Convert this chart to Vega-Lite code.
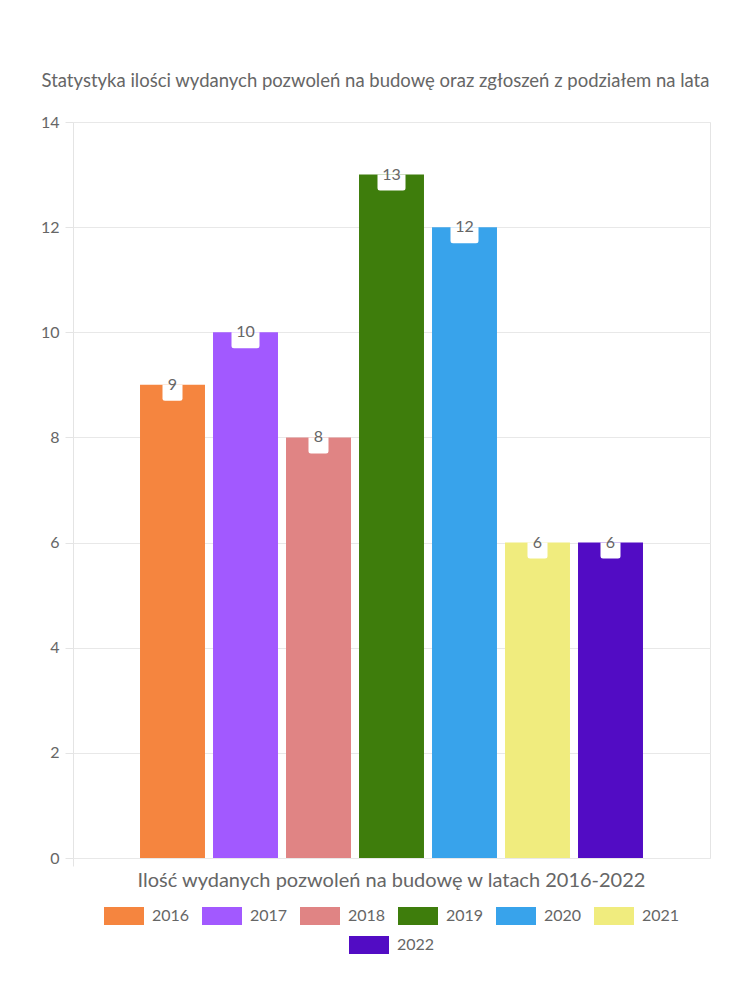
{
  "$schema": "https://vega.github.io/schema/vega-lite/v6.json",
  "autosize": {"type": "none"},
  "padding": {"left": 73, "top": 122, "right": 40, "bottom": 142},
  "width": 637,
  "height": 736,
  "background": "white",
  "title": {
    "text": "Statystyka ilości wydanych pozwoleń na budowę oraz zgłoszeń z podziałem na lata",
    "fontSize": 18.5,
    "fontWeight": "normal",
    "color": "#666666",
    "font": "Lato",
    "anchor": "middle",
    "frame": "group",
    "dx": -16,
    "offset": 24
  },
  "config": {
    "font": "Lato",
    "view": {"stroke": "#e4e4e4", "strokeWidth": 1},
    "legend": {
      "layout": {"bottom": {"anchor": "middle", "direction": "vertical", "center": true, "margin": 0}}
    }
  },
  "data": {
    "values": [
      {"kategoria": "Ilość wydanych pozwoleń na budowę w latach 2016-2022", "rok": "2016", "wartosc": 9},
      {"kategoria": "Ilość wydanych pozwoleń na budowę w latach 2016-2022", "rok": "2017", "wartosc": 10},
      {"kategoria": "Ilość wydanych pozwoleń na budowę w latach 2016-2022", "rok": "2018", "wartosc": 8},
      {"kategoria": "Ilość wydanych pozwoleń na budowę w latach 2016-2022", "rok": "2019", "wartosc": 13},
      {"kategoria": "Ilość wydanych pozwoleń na budowę w latach 2016-2022", "rok": "2020", "wartosc": 12},
      {"kategoria": "Ilość wydanych pozwoleń na budowę w latach 2016-2022", "rok": "2021", "wartosc": 6},
      {"kategoria": "Ilość wydanych pozwoleń na budowę w latach 2016-2022", "rok": "2022", "wartosc": 6}
    ]
  },
  "encoding": {
    "x": {
      "field": "kategoria",
      "type": "nominal",
      "scale": {"paddingInner": 0, "paddingOuter": 0},
      "axis": {
        "title": null,
        "labelAngle": 0,
        "labelFontSize": 20,
        "labelLimit": 0,
        "labelColor": "#666666",
        "labelPadding": 4,
        "tickSize": 8,
        "tickColor": "#e4e4e4",
        "bandPosition": 0,
        "domain": false,
        "grid": false
      }
    },
    "xOffset": {
      "field": "rok",
      "type": "nominal",
      "scale": {
        "domain": ["2016", "2017", "2018", "2019", "2020", "2021", "2022"],
        "paddingInner": 0.11,
        "paddingOuter": 0.918
      }
    },
    "y": {
      "field": "wartosc",
      "type": "quantitative",
      "scale": {"domain": [0, 14], "nice": false},
      "axis": {
        "title": null,
        "values": [0, 2, 4, 6, 8, 10, 12, 14],
        "labelFontSize": 16,
        "labelColor": "#666666",
        "labelPadding": 6,
        "tickSize": 8,
        "tickColor": "#e4e4e4",
        "gridColor": "#e8e8e8",
        "domain": false
      }
    }
  },
  "layer": [
    {
      "transform": [{"filter": "datum.rok != '2022'"}],
      "mark": {"type": "bar"},
      "encoding": {
        "color": {
          "field": "rok",
          "type": "nominal",
          "scale": {
            "domain": ["2016", "2017", "2018", "2019", "2020", "2021"],
            "range": ["#F5853F", "#A259FF", "#E08484", "#3E7D0C", "#38A3EB", "#F0EC7E"]
          },
          "legend": {
            "orient": "bottom",
            "title": null,
            "direction": "horizontal",
            "symbolType": "M-1,-0.45H1V0.45H-1Z",
            "symbolSize": 1600,
            "symbolStrokeWidth": 0,
            "symbolOpacity": 1,
            "labelFontSize": 16,
            "labelColor": "#666666",
            "labelOffset": 8,
            "columnPadding": 12,
            "offset": 6
          }
        }
      }
    },
    {
      "transform": [{"filter": "datum.rok == '2022'"}],
      "mark": {"type": "bar"},
      "encoding": {
        "fill": {
          "field": "rok",
          "type": "nominal",
          "scale": {"domain": ["2022"], "range": ["#520CC4"]},
          "legend": {
            "orient": "bottom",
            "title": null,
            "direction": "horizontal",
            "symbolType": "M-1,-0.45H1V0.45H-1Z",
            "symbolSize": 1600,
            "symbolStrokeWidth": 0,
            "symbolOpacity": 1,
            "labelFontSize": 16,
            "labelColor": "#666666",
            "labelOffset": 8,
            "offset": 6
          }
        }
      }
    },
    {
      "mark": {"type": "point", "filled": true, "fill": "white", "opacity": 1, "strokeWidth": 0, "size": 400, "yOffset": 8},
      "encoding": {
        "shape": {
          "condition": {"test": "datum.wartosc >= 10", "value": "M-1.4,-0.8H1.4V0.55Q1.4,0.8 1.15,0.8H-1.15Q-1.4,0.8 -1.4,0.55Z"},
          "value": "M-1,-0.8H1V0.55Q1,0.8 0.75,0.8H-0.75Q-1,0.8 -1,0.55Z"
        }
      }
    },
    {
      "mark": {"type": "text", "fontSize": 16, "color": "#666666", "baseline": "middle", "align": "center", "dy": 0},
      "encoding": {
        "text": {"field": "wartosc", "type": "quantitative"}
      }
    }
  ]
}
